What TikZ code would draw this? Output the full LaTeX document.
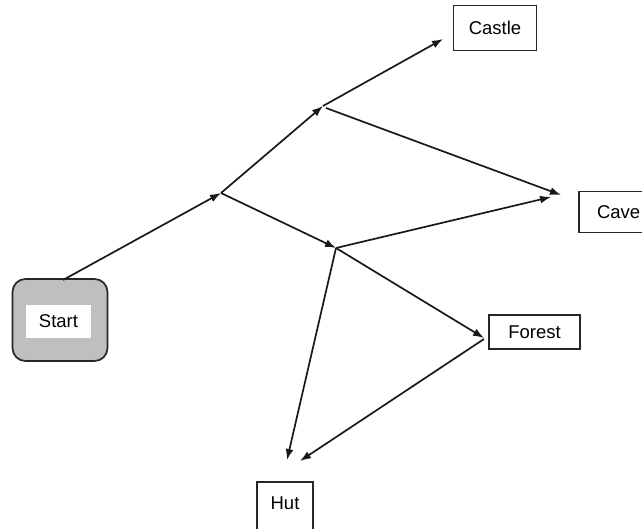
\documentclass[tikz,border=0pt]{standalone}
\usepackage{fontspec}
\setmainfont{Liberation Sans}
\usetikzlibrary{arrows.meta}
\begin{document}
\begin{tikzpicture}[x=1pt,y=-1pt,
  lbl/.style={font=\fontsize{18.5}{22}\selectfont},
  box/.style={lbl,draw=black!85,line width=1.7pt,fill=white,inner sep=0pt},
  conn/.style={line width=1.7pt,draw=black!90,-{Latex[length=11pt,width=8pt]}}]
\useasboundingbox (0,0) rectangle (642,529);
% Start box
\node[draw=black!85,line width=1.7pt,fill=black!25,rounded corners=13pt,minimum width=95pt,minimum height=82pt,inner sep=0pt] (startbox) at (60,320) {};
\node[lbl,fill=white,minimum width=65pt,minimum height=33pt,inner sep=0pt] (start) at (58.5,321.5) {Start};
% Destination boxes
\node[box,minimum width=83pt,minimum height=45pt] (castle) at (495,28) {Castle};
\node[box,minimum width=70pt,minimum height=41pt,text width=70pt,align=left] (cave) at (614,212) {\hspace{18pt}Cave};
\node[box,minimum width=91pt,minimum height=34pt] (forest) at (534.5,332) {Forest};
\node[box,minimum width=56pt,minimum height=52pt,text depth=10pt] (hut) at (285,508) {Hut};
% junctions and arrow ends
\coordinate (j1) at (221,193);
\coordinate (j2) at (323,106);
\coordinate (j3) at (336,248);
\coordinate (s0) at (63,280);
\coordinate (castleIn) at (443,39);
\coordinate (caveInA) at (561,195);
\coordinate (caveInB) at (551,197);
\coordinate (forestIn) at (484,338);
\coordinate (forestOut) at (484,339);
\coordinate (hutInA) at (287,460);
\coordinate (hutInB) at (300,461);
\coordinate (j2b) at (326,108);
% connectors
\draw[conn] (s0) -- (j1);
\draw[conn] (j1) -- (j2);
\draw[conn] (j2) -- (castleIn);
\draw[conn] (j2b) -- (caveInA);
\draw[conn] (j1) -- (j3);
\draw[conn] (j3) -- (caveInB);
\draw[conn] (j3) -- (forestIn);
\draw[conn] (j3) -- (hutInA);
\draw[conn] (forestOut) -- (hutInB);
\end{tikzpicture}
\end{document}
